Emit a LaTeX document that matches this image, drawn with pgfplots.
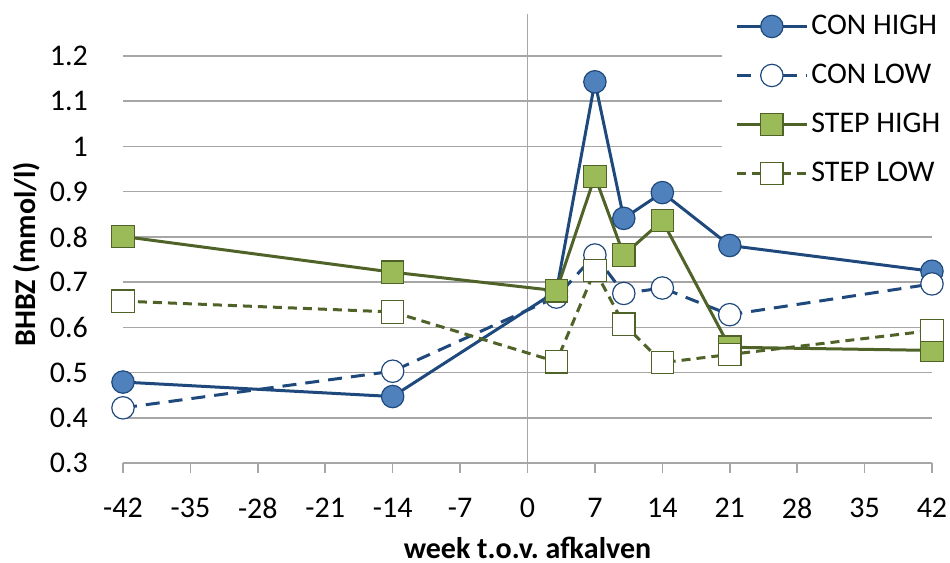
\documentclass[border=0pt]{standalone}
\usepackage{fontspec}
\setmainfont{Carlito}
\usepackage{pgfplots}
\pgfplotsset{compat=1.18}
\definecolor{bline}{HTML}{1F497D}
\definecolor{bfill}{HTML}{4F81BD}
\definecolor{gline}{HTML}{4F6228}
\definecolor{gfill}{HTML}{9BBB59}
\definecolor{gridc}{HTML}{A6A6A6}
\newcommand\ff{\fontsize{15}{18}\selectfont}
\frenchspacing
\begin{document}
\begin{tikzpicture}
\useasboundingbox (0,0) rectangle (475pt,281.5pt);
\begin{axis}[
  at={(61.5pt,50pt)}, anchor=south west, scale only axis,
  width=404.5pt, height=224.5pt,
  xmin=-42, xmax=42, ymin=0.3, ymax=1.293,
  clip=false,
  axis x line*=bottom, axis y line*=left,
  y axis line style={draw=none},
  x axis line style={gridc, line width=0.8pt, -},
  xtick={-42,-35,-28,-21,-14,-7,0,7,14,21,28,35,42},
  xticklabels={-42,-35,-28,-21,-14,-7,0,7,14,21,28,35,42},
  ytick={0.3,0.4,0.5,0.6,0.7,0.8,0.9,1.0,1.1,1.2},
  yticklabels={0.3,0.4,0.5,0.6,0.7,0.8,0.9,1,1.1,1.2},
  ymajorgrids, grid style={gridc, line width=0.8pt},
  xtick style={gridc, line width=0.8pt},
  ytick style={draw=none},
  tick align=outside, major tick length=5pt,
  ticklabel style={font=\ff},
  xticklabel style={yshift=-9pt},
  yticklabel style={xshift=-9pt},
  xlabel={week t.o.v.\ afkalven},
  xlabel style={font=\ff\bfseries, at={(axis description cs:0.5,-0.189)}, anchor=center},
  ylabel={BHBZ (mmol/l)},
  ylabel style={font=\ff\bfseries, at={(axis description cs:-0.1187,0.465)}, anchor=center},
  legend style={at={(axis description cs:0.7404,1.031)}, anchor=north west,
    fill=white, draw=none, font=\ff, inner xsep=6.5pt, inner ysep=6pt,
    nodes={inner sep=0pt, text height=11pt, text depth=3pt},
    row sep=10.5pt, column sep=1.5pt},
  legend cell align=left,
  legend image code/.code={\draw[mark repeat=2,mark phase=2,#1] plot coordinates {(0pt,0pt) (17.5pt,0pt) (35pt,0pt)};},
]
\draw[gridc, line width=0.8pt] (axis cs:0,0.3) -- (axis cs:0,1.293);
\addplot[bline, line width=1.5pt, mark=*, mark size=5.6pt,
  mark options={solid, fill=bfill, draw=bline, line width=0.6pt}]
  coordinates {(-42,0.479) (-14,0.447) (3,0.680) (7,1.143) (10,0.841) (14,0.898) (21,0.781) (42,0.724)};
\addlegendentry{CON HIGH}
\addplot[bline, line width=1.5pt, dash pattern=on 7pt off 4.5pt, mark=*, mark size=5.6pt,
  mark options={solid, fill=white, draw=bline, line width=0.6pt}]
  coordinates {(-42,0.422) (-14,0.503) (3,0.667) (7,0.760) (10,0.675) (14,0.687) (21,0.628) (42,0.696)};
\addlegendentry{CON LOW}
\addplot[gline, line width=1.5pt, mark=square*, mark size=5.6pt,
  mark options={solid, fill=gfill, draw=gline, line width=0.6pt}]
  coordinates {(-42,0.801) (-14,0.722) (3,0.681) (7,0.934) (10,0.760) (14,0.836) (21,0.556) (42,0.549)};
\addlegendentry{STEP HIGH}
\addplot[gline, line width=1.5pt, dash pattern=on 4.5pt off 3pt, mark=square*, mark size=5.6pt,
  mark options={solid, fill=white, draw=gline, line width=0.6pt}]
  coordinates {(-42,0.658) (-14,0.634) (3,0.524) (7,0.726) (10,0.607) (14,0.522) (21,0.540) (42,0.593)};
\addlegendentry{STEP LOW}
\end{axis}
\end{tikzpicture}
\end{document}
